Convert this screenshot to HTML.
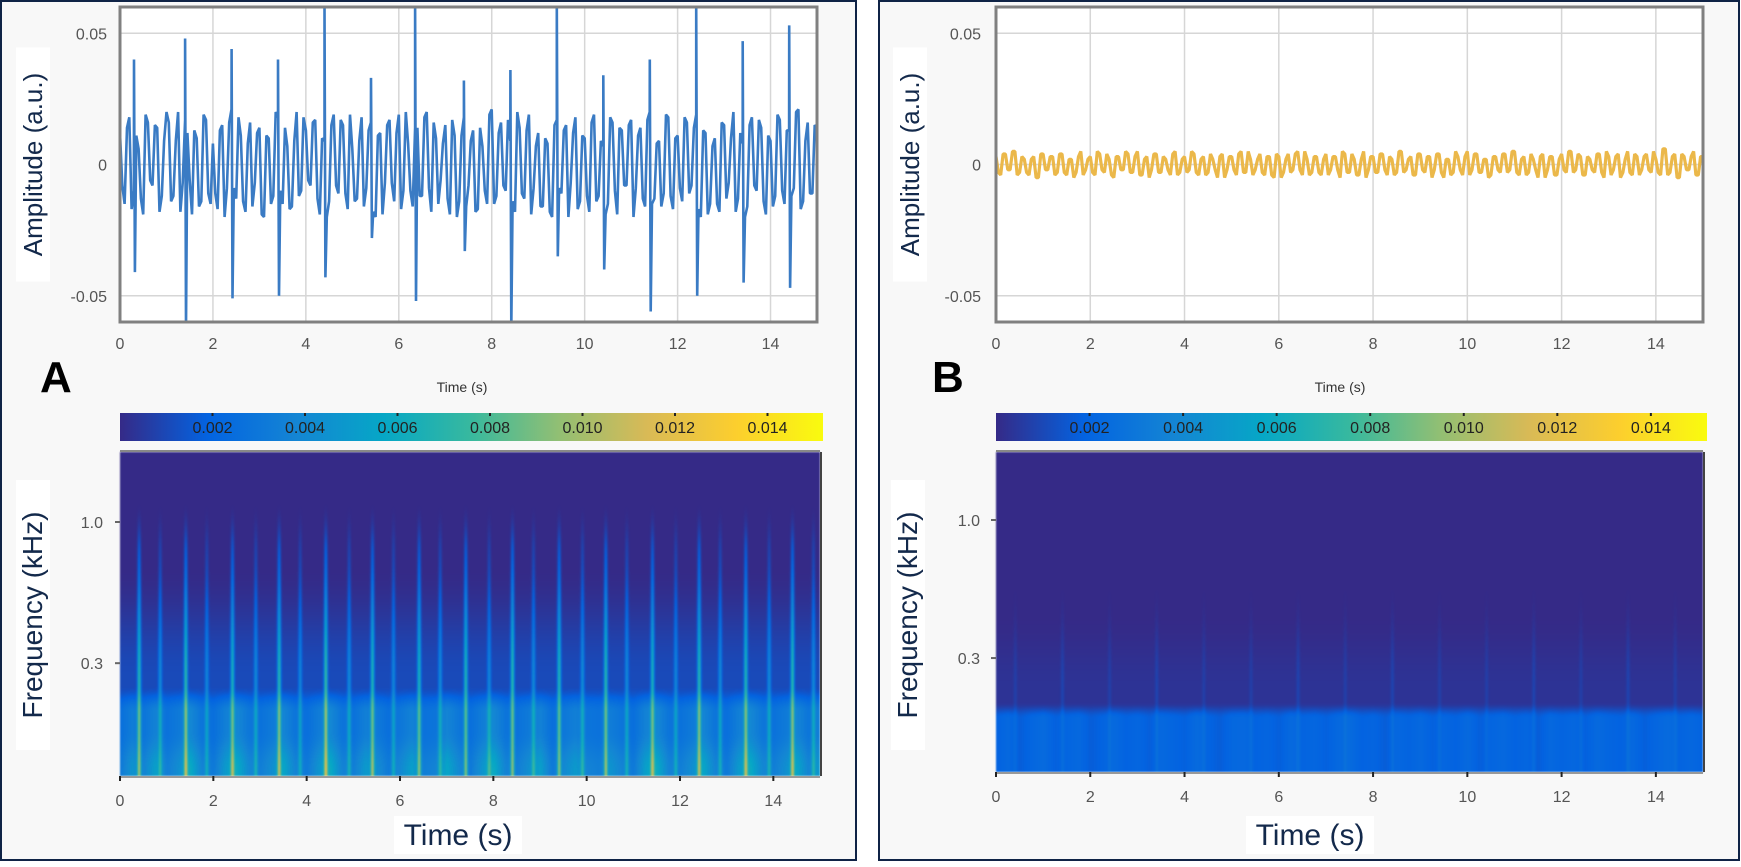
<!DOCTYPE html>
<html><head><meta charset="utf-8"><style>
body{margin:0;width:1741px;height:867px;background:#fff;position:relative;overflow:hidden;font-family:"Liberation Sans",sans-serif}
canvas{position:absolute;filter:blur(0.8px)}
svg{position:absolute;left:0;top:0}
</style></head><body>
<svg id="bg" width="1741" height="867">
<rect x="1" y="1" width="855" height="859" fill="#f8f8f8" stroke="#0f2346" stroke-width="2"/>
<rect x="879" y="1" width="860" height="859" fill="#f8f8f8" stroke="#0f2346" stroke-width="2"/>
</svg>
<canvas id="specA" width="700" height="324" style="left:120px;top:452px;width:700px;height:324px"></canvas>
<canvas id="specB" width="707" height="320" style="left:996px;top:452px;width:707px;height:320px"></canvas>
<svg id="fg" width="1741" height="867"></svg>
<script>
// ---------- data ----------
const xTicks=[0,2,4,6,8,10,12,14];
const ampTicks=[0.05,0,-0.05];
const ampTickLabels=["0.05","0","-0.05"];
const freqTicks=[1.0,0.3];
const freqTickLabels=["1.0","0.3"];
const cbTicks=[0.002,0.004,0.006,0.008,0.010,0.012,0.014];
const cbTickLabels=["0.002","0.004","0.006","0.008","0.010","0.012","0.014"];
// waveform A samples (milli a.u.), step 0.1 s
const waveA=[12,-15,18,-10,6,-19,16,-8,14,-12,20,-14,9,-18,17,-6,13,-16,19,-11,8,-17,15,-9,21,-13,11,-18,16,-7,14,-20,10,-12,18,-15,7,-16,20,-10,13,-8,17,-19,9,-14,19,-11,15,-17,6,-13,18,-9,16,-20,12,-7,17,-14,19,-10,8,-16,14,-12,20,-18,10,-6,15,-19,11,-14,18,-8,13,-17,7,-15,21,-12,16,-10,9,-18,14,-13,19,-9,12,-16,8,-20,17,-11,15,-7,18,-14,10,-18,19,-12,7,-15,16,-19,13,-8,17,-9,14,-16,20,-13,9,-11,18,-17,11,-14,16,-8,19,-20,12,-15,10,-18,15,-7,20,-13,8,-16,18,-10,14,-19,9,-12,17,-15,13,-9,21,-14,16,-11,14];
// waveform A samples at the half-steps (t = 0.05 + 0.1 i)
const waveA2=[-8,14,-17,11,-13,19,-6,15,-18,9,16,-12,20,-7,12,-19,10,-14,17,-15,-11,13,-20,16,-9,18,-14,8,-16,12,-19,11,-15,20,-10,14,-17,9,-12,18,-6,16,-13,10,-20,15,-8,17,-11,19,-14,9,-16,13,-18,11,-19,15,-7,12,-17,20,-10,14,-12,18,-9,16,-15,8,-13,17,-20,11,-16,9,-18,14,-10,19,-15,12,-8,17,-14,20,-11,13,-19,7,-16,10,-18,15,-9,13,-20,12,-17,11,-12,16,-14,9,-19,18,-10,14,-8,15,-20,11,-13,17,-15,8,-16,19,-12,10,-9,18,-11,14,-17,13,-19,7,-15,16,-13,10,-18,12,-20,15,-8,17,-14,11,-16,19,-10,13,-12,20,-17,9,-11,15];
const spikeTimesA=[0.3,1.4,2.4,3.4,4.4,5.4,6.35,7.4,8.4,9.4,10.4,11.4,12.4,13.4,14.4];
const spikeUpA=[40,48,44,40,62,33,62,32,36,62,34,40,62,47,53];
const spikeDownA=[-41,-62,-51,-50,-43,-28,-52,-33,-62,-35,-40,-56,-50,-45,-47];
// waveform B samples (milli a.u.)
const waveB=[3,-4,4,-2,5,-3,2,-4,3,-5,4,-2,3,-3,4,-4,2,-3,5,-2,3,-4,4,-3,2,-5,3,-2,4,-3,5,-4,3,-2,4,-3,2,-4,5,-3,3,-2,4,-4,3,-3,2,-5,4,-2,3,-4,5,-3,2,-2,4,-4,3,-5,3,-3,4,-2,5,-4,2,-3,3,-4,4,-2,3,-5,4,-3,2,-4,5,-2,3,-3,4,-4,2,-3,5,-2,3,-4,4,-3,3,-2,4,-5,2,-3,3,-4,5,-2,4,-3,2,-4,3,-3,4,-2,5,-4,3,-3,2,-5,4,-2,3,-4,4,-3,5,-2,3,-4,2,-3,4,-5,3,-2,4,-3,5,-4,3,-2,4,-3,2,-4,6,-3,4,-5,3,-2,5,-4,3];
const waveB2=[-3,4,-2,5,-4,3,-3,2,-5,4,-2,3,-4,4,-3,2,-5,3,-4,2,-3,5,-2,4,-4,3,-2,5,-3,3,-4,2,-5,4,-3,3,-2,4,-4,2,-3,5,-3,2,-4,4,-2,3,-5,3,-2,4,-3,5,-4,2,-3,3,-4,4,-5,2,-3,4,-2,5,-4,3,-3,2,-4,3,-2,5,-3,4,-4,2,-5,3,-3,4,-2,3,-4,5,-3,2,-4,4,-2,3,-5,4,-3,2,-4,5,-2,3,-4,4,-3,2,-5,3,-2,4,-3,5,-3,2,-4,4,-2,3,-5,3,-4,2,-2,5,-3,4,-4,3,-2,4,-3,5,-4,3,-5,2,-3,4,-4,3,-2,5,-3,6,-4,3,-5,4,-2,3,-4,3];
// spectrogram A
const burstTimesA=[0.4,0.85,1.4,1.85,2.4,2.9,3.4,3.85,4.4,4.9,5.4,5.85,6.4,6.85,7.4,7.9,8.4,8.85,9.4,9.9,10.4,10.85,11.4,11.9,12.4,12.85,13.4,13.9,14.4,14.85];
const burstPeakA=[0.6,0.3,0.62,0.28,0.55,0.3,0.6,0.27,0.65,0.3,0.58,0.28,0.55,0.3,0.58,0.28,0.62,0.3,0.58,0.32,0.6,0.3,0.55,0.28,0.6,0.3,0.58,0.3,0.62,0.3];
const lowBandA=[0.5,0.75,0.6,0.85,0.55,0.7,0.95,0.6,0.5,0.8,0.95,0.65,0.55,0.7,0.9,0.6,0.5,0.75,0.95,0.6,0.55,0.8,0.7,0.5,0.65,0.85,0.55,0.6,0.9,0.65,0.5,0.75,0.95,0.6,0.55,0.7,0.85,0.5,0.65,0.8,0.6,0.55,0.75,0.6,0.5,0.85,0.95,0.6,0.55,0.7,0.9,0.6,0.5,0.8,0.95,0.65,0.55,0.7,0.9,0.6,0.8];
// spectrogram B
const burstTimesB=[0.4,1.4,2.4,3.4,4.4,5.4,6.4,7.4,8.4,9.4,10.4,11.4,12.4,13.4,14.4];
const burstPeakB=[0.03,0.04,0.03,0.04,0.03,0.03,0.04,0.03,0.04,0.03,0.03,0.04,0.03,0.04,0.03];
const lowBandB=[0.25,0.3,0.22,0.28,0.32,0.24,0.27,0.3,0.22,0.26,0.31,0.25,0.28,0.23,0.3,0.27,0.24,0.32,0.26,0.22,0.29,0.3,0.25,0.27,0.23,0.31,0.26,0.28,0.24,0.3,0.32,0.25,0.27,0.22,0.29,0.26,0.3,0.24,0.28,0.25,0.31,0.23,0.27,0.3,0.25,0.28,0.22,0.3,0.26,0.29,0.24,0.31,0.27,0.25,0.3,0.23,0.28,0.32,0.26,0.29,0.25];

// ---------- helpers ----------
const NS="http://www.w3.org/2000/svg";
const fg=document.getElementById('fg');
function el(tag,attrs,parent){const e=document.createElementNS(NS,tag);for(const k in attrs)e.setAttribute(k,attrs[k]);(parent||fg).appendChild(e);return e;}
function txt(s,attrs){const e=el('text',attrs);e.textContent=s;return e;}
const parula=[[0,53,42,135],[0.125,3,99,225],[0.25,20,133,212],[0.375,6,167,198],[0.5,56,185,158],[0.625,146,191,115],[0.75,217,186,86],[0.875,252,206,46],[1,249,251,14]];
function cmap(v){v=Math.max(0,Math.min(1,v));for(let i=1;i<parula.length;i++){if(v<=parula[i][0]){const a=parula[i-1],b=parula[i],f=(v-a[0])/(b[0]-a[0]);return [a[1]+(b[1]-a[1])*f,a[2]+(b[2]-a[2])*f,a[3]+(b[3]-a[3])*f];}}return parula[8].slice(1);}
function interp(arr,t,step){const p=t/step;const i=Math.max(0,Math.min(arr.length-2,Math.floor(p)));const f=Math.min(1,Math.max(0,p-i));return arr[i]*(1-f)+arr[i+1]*f;}
function sm(x){x=Math.max(0,Math.min(1,x));return x*x*(3-2*x);}

const panels=[
 {id:'a',wave:waveA,wave2:waveA2,spT:spikeTimesA,spU:spikeUpA,spD:spikeDownA,color:'#3a7bc4',sw:2.6,top:{x0:120,x1:817,y0:7,y1:322},spec:{x0:120,x1:820,y0:452,y1:776,f1y:522,dec:270},cb:{x0:120,x1:823,y0:413,y1:441},
  ampLabelX:33,ytickX:107,smallTimeX:462,bigTimeX:458,letter:'A',letterX:40,freqLabelX:33,ftickX:103,bursts:[burstTimesA,burstPeakA],low:lowBandA,kind:'A',canvas:'specA'},
 {id:'b',wave:waveB,wave2:waveB2,spT:[],spU:[],spD:[],color:'#ebb84a',sw:3.2,top:{x0:996,x1:1703,y0:7,y1:322},spec:{x0:996,x1:1703,y0:452,y1:772,f1y:520,dec:264},cb:{x0:996,x1:1707,y0:413,y1:441},
  ampLabelX:910,ytickX:981,smallTimeX:1340,bigTimeX:1310,letter:'B',letterX:932,freqLabelX:908,ftickX:980,bursts:[burstTimesB,burstPeakB],low:lowBandB,kind:'B',canvas:'specB'}
];

panels.forEach(P=>{
 const T=P.top;
 const sx=t=>T.x0+(t/15)*(T.x1-T.x0);
 const sy=v=>T.y0+(0.06-v)/0.12*(T.y1-T.y0);
 el('rect',{x:T.x0,y:T.y0,width:T.x1-T.x0,height:T.y1-T.y0,fill:'#fff',});
 xTicks.forEach(t=>{
  const g=el('line',{x1:sx(t),x2:sx(t),y1:T.y0,y2:T.y1,stroke:'#d6d6d6','stroke-width':1.5});
  
  
  const l=txt(String(t),{x:sx(t),y:349,'text-anchor':'middle','font-size':16,fill:'#555'});
  
  
 });
 ampTicks.forEach((v,i)=>{
  const g=el('line',{x1:T.x0,x2:T.x1,y1:sy(v),y2:sy(v),stroke:'#d6d6d6','stroke-width':1.5});
  
  
  const l=txt(ampTickLabels[i],{x:P.ytickX,y:sy(v)+6,'text-anchor':'end','font-size':16,fill:'#555'});
  
  
 });
 const pts=[];
 P.wave.forEach((v,i)=>pts.push([i*0.1,v/1000]));
 P.wave2.forEach((v,i)=>pts.push([i*0.1+0.05,v/1000]));
 P.spT.forEach((t,i)=>{pts.push([t+0.001,P.spU[i]/1000]);pts.push([t+0.021,P.spD[i]/1000]);});
 pts.sort((a,b)=>a[0]-b[0]);
 const cp=el('clipPath',{id:'clip'+P.id});
 el('rect',{x:T.x0,y:T.y0,width:T.x1-T.x0,height:T.y1-T.y0},cp);
 const line=el('polyline',{points:pts.map(p=>sx(p[0]).toFixed(1)+','+sy(Math.max(-0.062,Math.min(0.062,p[1]))).toFixed(1)).join(' '),fill:'none',stroke:P.color,'stroke-width':P.sw,'stroke-linejoin':'bevel','clip-path':'url(#clip'+P.id+')'});
 
 
 el('rect',{x:T.x0,y:T.y0,width:T.x1-T.x0,height:T.y1-T.y0,fill:'none',stroke:'#808080','stroke-width':3,});
 const gy=(T.y0+T.y1)/2;
 el('rect',{x:P.ampLabelX-17,y:gy-117,width:34,height:234,fill:'#fff'});
 txt('Amplitude (a.u.)',{x:P.ampLabelX+9,y:gy,transform:`rotate(-90 ${P.ampLabelX+9} ${gy})`,'text-anchor':'middle','font-size':26,fill:'#13294b',});
 txt('Time (s)',{x:P.smallTimeX,y:392,'text-anchor':'middle','font-size':14,fill:'#333',});
 txt(P.letter,{x:P.letterX,y:392,'font-size':44,'font-weight':'bold',fill:'#000',});

 const C=P.cb;
 const grad=el('linearGradient',{id:'cbg'+P.id,x1:0,x2:1,y1:0,y2:0});
 parula.forEach(s=>el('stop',{offset:s[0],'stop-color':`rgb(${s[1]},${s[2]},${s[3]})`},grad));
 el('rect',{x:C.x0,y:C.y0,width:C.x1-C.x0,height:C.y1-C.y0,fill:'url(#cbg'+P.id+')',});
 const cx=v=>C.x0+v/0.0152*(C.x1-C.x0);
 cbTicks.forEach((v,i)=>{
  el('line',{x1:cx(v),x2:cx(v),y1:C.y0,y2:C.y0+3,stroke:'#222','stroke-width':2});
  const l=txt(cbTickLabels[i],{x:cx(v),y:C.y1-8,'text-anchor':'middle','font-size':16,fill:'#222'});
  
  
 });

 const S=P.spec;
 const cv=document.getElementById(P.canvas);const ctx=cv.getContext('2d');
 const w=cv.width,h=cv.height;const img=ctx.createImageData(w,h);
 const [bt,bp]=P.bursts;
 for(let x=0;x<w;x++){
  const t=x/w*15;
  let bsum=0;
  for(let k=0;k<bt.length;k++){const d=(t-bt[k])/0.035;bsum+=bp[k]*Math.exp(-d*d);}
  const lb=interp(P.low,t,0.25);
  for(let y=0;y<h;y++){
   const u=y/h;let v=0;
   if(P.kind=='A'){
    v+=bsum*(0.1+0.6*sm((u-0.15)/0.6))*sm((u-0.15)/0.15);
    v+=0.07*sm((u-0.35)/0.35);
    v+=lb*0.2*sm((u-0.72)/0.08);
    v+=lb*lb*0.15*sm((u-0.86)/0.12);
   } else {
    v+=bsum*sm((u-0.4)/0.3);
    v+=0.02*sm((u-0.5)/0.25);
    v+=lb*0.42*sm((u-0.78)/0.05);
   }
   const c=cmap(v);const o=(y*w+x)*4;
   img.data[o]=c[0];img.data[o+1]=c[1];img.data[o+2]=c[2];img.data[o+3]=255;
  }
 }
 ctx.putImageData(img,0,0);
 el('line',{x1:S.x0,x2:S.x1,y1:S.y0-1,y2:S.y0-1,stroke:'#888','stroke-width':2});
 el('line',{x1:S.x1+1,x2:S.x1+1,y1:S.y0,y2:S.y1,stroke:'#444','stroke-width':2});
 el('line',{x1:S.x0,x2:S.x1,y1:S.y1+1,y2:S.y1+1,stroke:'#999','stroke-width':2});
 const spx=t=>S.x0+t/15*(S.x1-S.x0);
 const fy=f=>S.f1y-Math.log10(f)*S.dec;
 xTicks.forEach(t=>{
  el('line',{x1:spx(t),x2:spx(t),y1:S.y1,y2:S.y1+5,stroke:'#222','stroke-width':2});
  const l=txt(String(t),{x:spx(t),y:S.y1+30,'text-anchor':'middle','font-size':16,fill:'#555'});
  
  
 });
 freqTicks.forEach((f,i)=>{
  el('line',{x1:S.x0-5,x2:S.x0,y1:fy(f),y2:fy(f),stroke:'#666','stroke-width':2});
  const l=txt(freqTickLabels[i],{x:P.ftickX,y:fy(f)+6,'text-anchor':'end','font-size':16,fill:'#555'});
  
  
 });
 const fyc=615;
 el('rect',{x:P.freqLabelX-17,y:fyc-135,width:34,height:270,fill:'#fff'});
 txt('Frequency (kHz)',{x:P.freqLabelX+9,y:fyc,transform:`rotate(-90 ${P.freqLabelX+9} ${fyc})`,'text-anchor':'middle','font-size':28,fill:'#13294b',});
 el('rect',{x:P.bigTimeX-64,y:816,width:128,height:38,fill:'#fff'});
 txt('Time (s)',{x:P.bigTimeX,y:845,'text-anchor':'middle','font-size':30,fill:'#13294b',});
});
</script>
</body></html>
